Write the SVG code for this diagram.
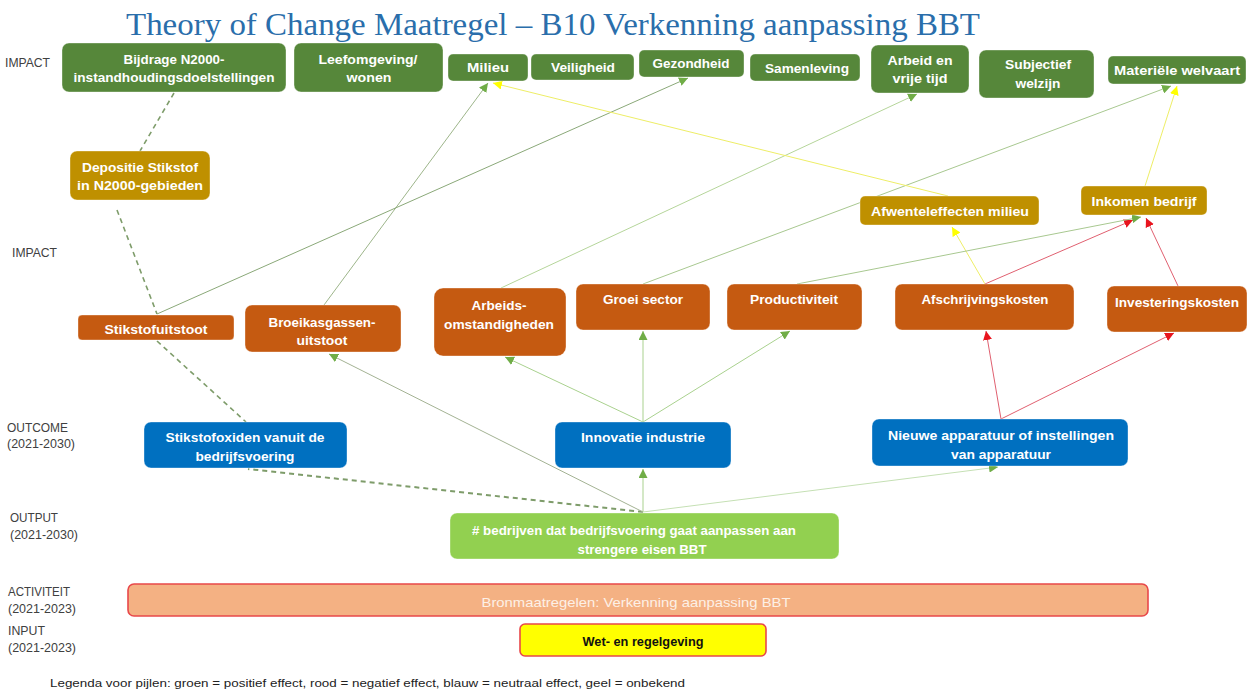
<svg xmlns="http://www.w3.org/2000/svg" width="1255" height="695" viewBox="0 0 1255 695">
<style>
.bx{stroke:#ffffff;stroke-opacity:0.35;stroke-width:1}
.g{fill:#56873A}
.au{fill:#BF9000}
.o{fill:#C55A11}
.b{fill:#0070C0}
.lg{fill:#92D050}
.t{font-family:"Liberation Sans",Arial,sans-serif;font-weight:bold;font-size:13.5px;fill:#ffffff;text-anchor:middle}
.lab{font-family:"Liberation Sans",Arial,sans-serif;font-size:12px;fill:#404040}
.c{fill:none;stroke-width:1}
.d{fill:none;stroke:#7E9C6A;stroke-width:1.6;stroke-dasharray:5 4}
</style>
<defs>
<marker id="ag" viewBox="0 0 10 10" refX="10" refY="5" markerWidth="9" markerHeight="9" markerUnits="userSpaceOnUse" orient="auto"><path d="M0,0 L10,5 L0,10 z" fill="#70AD47"/></marker>
<marker id="ar" viewBox="0 0 10 10" refX="10" refY="5" markerWidth="9" markerHeight="9" markerUnits="userSpaceOnUse" orient="auto"><path d="M0,0 L10,5 L0,10 z" fill="#E8141E"/></marker>
<marker id="ay" viewBox="0 0 10 10" refX="10" refY="5" markerWidth="9" markerHeight="9" markerUnits="userSpaceOnUse" orient="auto"><path d="M0,0 L10,5 L0,10 z" fill="#FFFF00"/></marker>
</defs>
<rect width="1255" height="695" fill="#ffffff"/>
<text x="553" y="35" text-anchor="middle" font-family="'Liberation Serif','Times New Roman',serif" font-size="31" fill="#2A6EAB" textLength="854" lengthAdjust="spacingAndGlyphs">Theory of Change Maatregel – B10 Verkenning aanpassing BBT</text>

<g id="labels">
<text class="lab" x="5" y="67" textLength="45" lengthAdjust="spacingAndGlyphs">IMPACT</text>
<text class="lab" x="12" y="257" textLength="45" lengthAdjust="spacingAndGlyphs">IMPACT</text>
<text class="lab" x="7" y="432" textLength="61" lengthAdjust="spacingAndGlyphs">OUTCOME</text>
<text class="lab" x="7" y="448" textLength="68" lengthAdjust="spacingAndGlyphs">(2021-2030)</text>
<text class="lab" x="10" y="522" textLength="48" lengthAdjust="spacingAndGlyphs">OUTPUT</text>
<text class="lab" x="10" y="539" textLength="68" lengthAdjust="spacingAndGlyphs">(2021-2030)</text>
<text class="lab" x="8" y="596" textLength="62" lengthAdjust="spacingAndGlyphs">ACTIVITEIT</text>
<text class="lab" x="8" y="613" textLength="68" lengthAdjust="spacingAndGlyphs">(2021-2023)</text>
<text class="lab" x="8" y="635" textLength="37" lengthAdjust="spacingAndGlyphs">INPUT</text>
<text class="lab" x="8" y="652" textLength="68" lengthAdjust="spacingAndGlyphs">(2021-2023)</text>
<text class="lab" x="50" y="687" style="font-size:11.5px;fill:#222222" textLength="635" lengthAdjust="spacingAndGlyphs">Legenda voor pijlen: groen = positief effect, rood = negatief effect, blauw = neutraal effect, geel = onbekend</text>
</g>

<g id="connectors">
<line class="d" x1="174" y1="93" x2="140" y2="151"/>
<line class="d" x1="117" y1="210" x2="157" y2="314"/>
<line class="d" x1="157" y1="341" x2="246" y2="422"/>
<line class="d" x1="643" y1="512" x2="248" y2="469" style="stroke-width:2"/>
<line class="c" stroke="#A3B293" x1="643" y1="512" x2="329" y2="354" marker-end="url(#ag)"/>
<line class="c" stroke="#A9D18E" x1="643" y1="512" x2="643" y2="469" marker-end="url(#ag)"/>
<line class="c" stroke="#C5E0B4" x1="643" y1="512" x2="998" y2="467" marker-end="url(#ag)"/>
<line class="c" stroke="#A9D18E" x1="643" y1="422" x2="505" y2="357" marker-end="url(#ag)"/>
<line class="c" stroke="#A9D18E" x1="643" y1="422" x2="643" y2="331" marker-end="url(#ag)"/>
<line class="c" stroke="#A9D18E" x1="643" y1="422" x2="790" y2="331" marker-end="url(#ag)"/>
<line class="c" stroke="#E06070" x1="1001" y1="419" x2="986" y2="331" marker-end="url(#ar)"/>
<line class="c" stroke="#E06070" x1="1001" y1="419" x2="1174" y2="333" marker-end="url(#ar)"/>
<line class="c" stroke="#EEEE66" x1="985" y1="284" x2="952" y2="227" marker-end="url(#ay)"/>
<line class="c" stroke="#E06070" x1="985" y1="284" x2="1133" y2="220" marker-end="url(#ar)"/>
<line class="c" stroke="#E06070" x1="1178" y1="286" x2="1146" y2="218" marker-end="url(#ar)"/>
<line class="c" stroke="#A8C890" x1="797" y1="284" x2="1141" y2="217" marker-end="url(#ag)"/>
<line class="c" stroke="#A8C890" x1="643" y1="284" x2="1171" y2="86" marker-end="url(#ag)"/>
<line class="c" stroke="#B5D59A" x1="501" y1="288" x2="917" y2="94" marker-end="url(#ag)"/>
<line class="c" stroke="#9DB58A" x1="324" y1="305" x2="488" y2="83" marker-end="url(#ag)"/>
<line class="c" stroke="#8AA878" x1="157" y1="314" x2="688" y2="78" marker-end="url(#ag)"/>
<line class="c" stroke="#EEEE66" x1="948" y1="196" x2="493" y2="83" marker-end="url(#ay)"/>
<line class="c" stroke="#EEEE66" x1="1145" y1="186" x2="1177" y2="86" marker-end="url(#ay)"/>
</g>

<g id="n-bijdrage"><rect class="bx g" x="62" y="43" width="224" height="49" rx="7"/>
<text class="t" x="174" y="64" textLength="101" lengthAdjust="spacingAndGlyphs">Bijdrage N2000-</text>
<text class="t" x="174" y="82" textLength="201" lengthAdjust="spacingAndGlyphs">instandhoudingsdoelstellingen</text></g>
<g id="n-leefomgeving"><rect class="bx g" x="294" y="43" width="149" height="49" rx="7"/>
<text class="t" x="368" y="64" textLength="99" lengthAdjust="spacingAndGlyphs">Leefomgeving/</text>
<text class="t" x="369" y="82" textLength="45" lengthAdjust="spacingAndGlyphs">wonen</text></g>
<g id="n-milieu"><rect class="bx g" x="448" y="54" width="80" height="27" rx="5"/>
<text class="t" x="488" y="72" textLength="42" lengthAdjust="spacingAndGlyphs">Milieu</text></g>
<g id="n-veiligheid"><rect class="bx g" x="531" y="54" width="103" height="26" rx="5"/>
<text class="t" x="583" y="72" textLength="64" lengthAdjust="spacingAndGlyphs">Veiligheid</text></g>
<g id="n-gezondheid"><rect class="bx g" x="639" y="50" width="105" height="27" rx="5"/>
<text class="t" x="691" y="68" textLength="77" lengthAdjust="spacingAndGlyphs">Gezondheid</text></g>
<g id="n-samenleving"><rect class="bx g" x="750" y="54" width="110" height="27" rx="5"/>
<text class="t" x="807" y="73" textLength="84" lengthAdjust="spacingAndGlyphs">Samenleving</text></g>
<g id="n-arbeid"><rect class="bx g" x="871" y="45" width="98" height="48" rx="7"/>
<text class="t" x="920" y="65" textLength="65" lengthAdjust="spacingAndGlyphs">Arbeid en</text>
<text class="t" x="920" y="83" textLength="55" lengthAdjust="spacingAndGlyphs">vrije tijd</text></g>
<g id="n-subjectief"><rect class="bx g" x="979" y="50" width="115" height="48" rx="7"/>
<text class="t" x="1038" y="69" textLength="66" lengthAdjust="spacingAndGlyphs">Subjectief</text>
<text class="t" x="1038" y="88" textLength="45" lengthAdjust="spacingAndGlyphs">welzijn</text></g>
<g id="n-materiele"><rect class="bx g" x="1108" y="56" width="138" height="28" rx="5"/>
<text class="t" x="1177" y="75" textLength="126" lengthAdjust="spacingAndGlyphs">Materiële welvaart</text></g>

<g id="n-depositie"><rect class="bx au" x="70" y="151" width="140" height="49" rx="7"/>
<text class="t" x="140" y="172" textLength="116" lengthAdjust="spacingAndGlyphs">Depositie Stikstof</text>
<text class="t" x="140" y="190" textLength="126" lengthAdjust="spacingAndGlyphs">in N2000-gebieden</text></g>
<g id="n-afwentel"><rect class="bx au" x="860" y="196" width="179" height="29" rx="5"/>
<text class="t" x="950" y="216" textLength="158" lengthAdjust="spacingAndGlyphs">Afwenteleffecten milieu</text></g>
<g id="n-inkomen"><rect class="bx au" x="1081" y="186" width="126" height="29" rx="5"/>
<text class="t" x="1144" y="206" textLength="105" lengthAdjust="spacingAndGlyphs">Inkomen bedrijf</text></g>

<g id="n-stikstofuitstoot"><rect class="bx o" x="78" y="315" width="156" height="25" rx="4"/>
<text class="t" x="156" y="334" textLength="103" lengthAdjust="spacingAndGlyphs">Stikstofuitstoot</text></g>
<g id="n-broeikas"><rect class="bx o" x="245" y="305" width="156" height="47" rx="7"/>
<text class="t" x="322" y="327" textLength="107" lengthAdjust="spacingAndGlyphs">Broeikasgassen-</text>
<text class="t" x="322" y="345" textLength="51" lengthAdjust="spacingAndGlyphs">uitstoot</text></g>
<g id="n-arbeidsomst"><rect class="bx o" x="434" y="288" width="132" height="68" rx="9"/>
<text class="t" x="499" y="310" textLength="55" lengthAdjust="spacingAndGlyphs">Arbeids-</text>
<text class="t" x="499" y="329" textLength="110" lengthAdjust="spacingAndGlyphs">omstandigheden</text></g>
<g id="n-groei"><rect class="bx o" x="576" y="284" width="134" height="46" rx="7"/>
<text class="t" x="643" y="304" textLength="80" lengthAdjust="spacingAndGlyphs">Groei sector</text></g>
<g id="n-productiviteit"><rect class="bx o" x="727" y="284" width="135" height="46" rx="7"/>
<text class="t" x="794" y="304" textLength="88" lengthAdjust="spacingAndGlyphs">Productiviteit</text></g>
<g id="n-afschrijving"><rect class="bx o" x="895" y="284" width="179" height="46" rx="7"/>
<text class="t" x="985" y="304" textLength="127" lengthAdjust="spacingAndGlyphs">Afschrijvingskosten</text></g>
<g id="n-investering"><rect class="bx o" x="1107" y="286" width="140" height="46" rx="7"/>
<text class="t" x="1177" y="307" textLength="124" lengthAdjust="spacingAndGlyphs">Investeringskosten</text></g>

<g id="n-stikstofoxiden"><rect class="bx b" x="144" y="422" width="203" height="46" rx="7"/>
<text class="t" x="245" y="442" textLength="159" lengthAdjust="spacingAndGlyphs">Stikstofoxiden vanuit de</text>
<text class="t" x="245" y="461" textLength="99" lengthAdjust="spacingAndGlyphs">bedrijfsvoering</text></g>
<g id="n-innovatie"><rect class="bx b" x="555" y="422" width="176" height="46" rx="7"/>
<text class="t" x="643" y="442" textLength="124" lengthAdjust="spacingAndGlyphs">Innovatie industrie</text></g>
<g id="n-apparatuur"><rect class="bx b" x="872" y="419" width="256" height="47" rx="7"/>
<text class="t" x="1001" y="440" textLength="226" lengthAdjust="spacingAndGlyphs">Nieuwe apparatuur  of instellingen</text>
<text class="t" x="1001" y="459" textLength="100" lengthAdjust="spacingAndGlyphs">van apparatuur</text></g>

<g id="n-output"><rect class="bx lg" x="450" y="513" width="389" height="46" rx="7"/>
<text class="t" x="634" y="535" style="font-size:13px" textLength="324" lengthAdjust="spacingAndGlyphs"># bedrijven dat bedrijfsvoering gaat aanpassen aan</text>
<text class="t" x="642" y="554" style="font-size:13px" textLength="129" lengthAdjust="spacingAndGlyphs">strengere eisen BBT</text></g>

<g id="n-activiteit"><rect x="128" y="584" width="1020" height="32" rx="6" fill="#F4B183" stroke="#E8484A" stroke-width="1.6"/>
<text class="t" x="636" y="607" style="font-weight:normal;font-size:13px;fill:#FDF0E6" textLength="309" lengthAdjust="spacingAndGlyphs">Bronmaatregelen:  Verkenning aanpassing BBT</text></g>

<g id="n-input"><rect x="520" y="624" width="246" height="32" rx="5" fill="#FFFF00" stroke="#E8484A" stroke-width="1.6"/>
<text class="t" x="643" y="646" style="font-size:13px;fill:#111111" textLength="121" lengthAdjust="spacingAndGlyphs">Wet- en regelgeving</text></g>
</svg>
